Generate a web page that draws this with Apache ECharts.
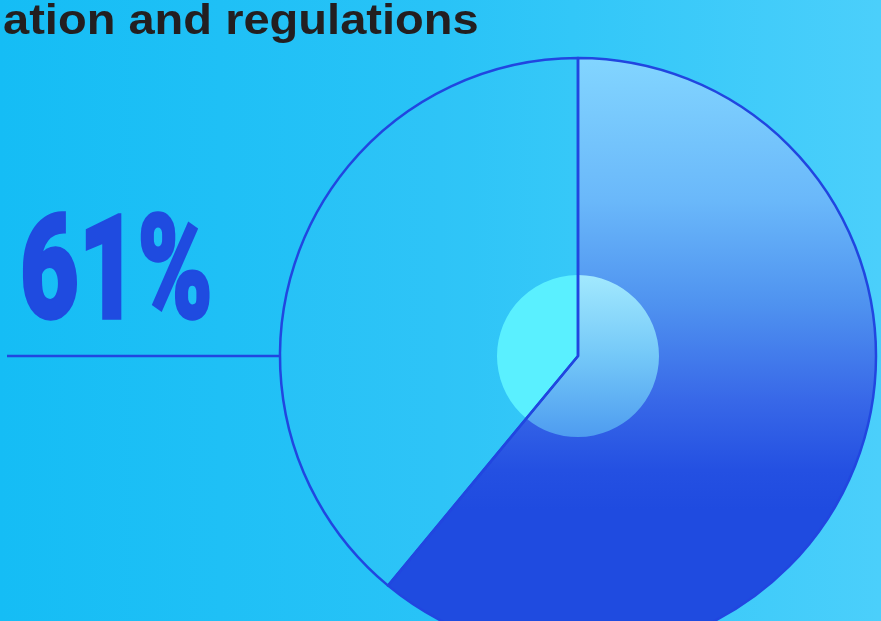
<!DOCTYPE html>
<html>
<head>
<meta charset="utf-8">
<script src="https://cdn.jsdelivr.net/npm/echarts@6/dist/echarts.min.js"></script>
<style>
html,body{margin:0;padding:0;}
#c{width:881px;height:621px;}
</style>
</head>
<body>
<div id="c"></div>
<script>
// Data
const categories = ['Yes', 'Other'];
const values = [61, 39];
const headline = '61%';
const titleText = 'ation and regulations';

const chart = echarts.init(document.getElementById('c'), null, {renderer: 'canvas'});
const cx = 578, cy = 356, R = 298, r0 = 81;
const share = values[0] / (values[0] + values[1]);
const startA = -Math.PI / 2;
const splitA = startA + 2 * Math.PI * share;

const blueGrad = {
  type: 'linear', x: 0, y: 59, x2: 0, y2: 654, global: true,
  colorStops: [
    {offset: 0, color: '#82D5FF'},
    {offset: 0.237, color: '#6AB8FA'},
    {offset: 0.405, color: '#5094F0'},
    {offset: 0.573, color: '#3868E8'},
    {offset: 0.691, color: '#2450E2'},
    {offset: 0.758, color: '#1F4BE0'},
    {offset: 1, color: '#1F4BE0'}
  ]
};

const fillData = categories.map((c, i) => ({
  name: c, value: values[i],
  itemStyle: {color: i === 0 ? blueGrad : 'rgba(255,255,255,0.025)'}
}));
const lineData = categories.map((c, i) => ({name: c, value: values[i]}));

chart.setOption({
  animation: false,
  backgroundColor: {
    type: 'linear', x: 0, y: 0, x2: 1, y2: 0,
    colorStops: [
      {offset: 0, color: '#15BDF5'},
      {offset: 0.5, color: '#29C3F7'},
      {offset: 0.65, color: '#32C7F8'},
      {offset: 1, color: '#4BCFFB'}
    ]
  },
  series: [
    {
      type: 'pie', z: 1, silent: true, center: [cx, cy], radius: [0, R],
      startAngle: 90, clockwise: true, label: {show: false}, labelLine: {show: false},
      emphasis: {disabled: true},
      itemStyle: {borderWidth: 0},
      data: fillData
    },
    {
      type: 'pie', z: 3, silent: true, center: [cx, cy], radius: [0, R],
      startAngle: 90, clockwise: true, label: {show: false}, labelLine: {show: false},
      emphasis: {disabled: true},
      itemStyle: {color: 'rgba(0,0,0,0)', borderColor: '#2146E0', borderWidth: 2.5},
      data: lineData
    }
  ],
  graphic: [
    {
      type: 'sector', z: 2, silent: true,
      shape: {cx: cx, cy: cy, r: r0, r0: 0, startAngle: startA, endAngle: splitA, clockwise: true},
      style: {fill: {
        type: 'linear', x: 0, y: 0, x2: 0, y2: 1,
        colorStops: [{offset: 0, color: '#A2E9FE'}, {offset: 0.5, color: '#74C8F8'}, {offset: 1, color: '#4E9CF0'}]
      }}
    },
    {
      type: 'sector', z: 2, silent: true,
      shape: {cx: cx, cy: cy, r: r0, r0: 0, startAngle: splitA, endAngle: startA + 2 * Math.PI, clockwise: true},
      style: {fill: '#5AF0FF'}
    },
    {
      type: 'line', z: 2, silent: true,
      shape: {x1: 7, y1: cy, x2: cx - R, y2: cy},
      style: {stroke: '#2146E0', lineWidth: 2.5}
    },
    {
      type: 'text', z: 5, silent: true,
      x: 20, y: 282, scaleX: 0.6, scaleY: 0.855,
      style: {text: headline, fill: '#1F4BE0', stroke: '#1F4BE0', lineWidth: 4, font: '900 169px Roboto', verticalAlign: 'middle', align: 'left'}
    },
    {
      type: 'text', z: 5, silent: true,
      x: 3, y: 22, scaleX: 1.12,
      style: {text: titleText, fill: '#231F20', font: 'bold 42px "Liberation Sans"', verticalAlign: 'middle', align: 'left'}
    }
  ]
});
</script>
</body>
</html>
